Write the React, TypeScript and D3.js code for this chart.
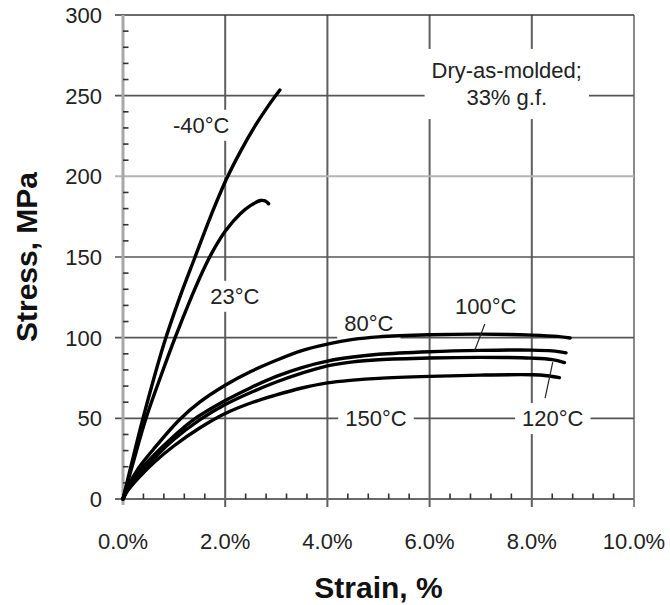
import React, { useEffect, useRef } from 'react';
import * as d3 from 'd3';

const WIDTH = 670;
const HEIGHT = 605;

// Axis ticks
const strainTicks = [0, 2, 4, 6, 8, 10];
const stressTicks = [0, 50, 100, 150, 200, 250, 300];

// Stress-strain curves: [strain %, stress MPa]
const curveMinus40: [number, number][] = [
  [0, 0], [0.2, 26], [0.4, 51], [0.8, 96], [1.1, 124], [1.41, 150], [1.7, 174],
  [2.02, 198], [2.3, 215.5], [2.6, 232], [2.85, 244], [3.07, 253.5],
];
const curve23: [number, number][] = [
  [0, 0], [0.22, 25], [0.45, 50], [0.75, 77], [1.02, 100], [1.35, 126], [1.5, 137],
  [1.64, 146.5], [1.8, 156], [2.0, 166], [2.3, 177], [2.5, 182], [2.69, 185], [2.78, 184.8],
  [2.85, 183],
];
const curve80: [number, number][] = [
  [0, 0], [0.1, 8], [0.3, 19], [0.6, 31], [1.1, 49], [1.5, 60], [2.0, 70.5], [2.5, 79],
  [3.0, 86], [3.5, 92], [4.0, 96], [4.5, 98.9], [5.0, 100.5], [6.0, 101.8], [7.0, 102.2],
  [8.0, 101.6], [8.5, 100.8], [8.75, 99.8],
];
const curve100: [number, number][] = [
  [0, 0], [0.1, 7], [0.3, 16.5], [0.6, 27], [1.0, 39], [1.35, 48.5], [2.0, 61], [2.5, 69],
  [3.0, 76], [3.5, 81.5], [4.0, 85.5], [4.5, 88], [5.0, 89.7], [6.0, 91.3], [7.0, 92.1],
  [8.0, 92.3], [8.4, 91.8], [8.67, 90.6],
];
const curve120: [number, number][] = [
  [0, 0], [0.1, 6.5], [0.3, 15], [0.6, 25], [1.0, 37], [1.5, 49], [2.0, 58.5], [2.5, 66],
  [3.0, 72.5], [3.5, 78], [4.0, 82.5], [4.5, 85], [5.0, 86.3], [6.0, 87.4], [7.0, 87.8],
  [8.0, 87.3], [8.4, 86.4], [8.64, 84.6],
];
const curve150: [number, number][] = [
  [0, 0], [0.1, 5.5], [0.3, 13], [0.6, 22.5], [1.0, 33], [1.5, 44], [2.0, 53], [2.5, 59.5],
  [3.0, 64.5], [3.5, 68.8], [4.0, 72], [4.5, 73.7], [5.0, 74.8], [6.0, 76], [7.0, 76.8],
  [8.0, 77], [8.3, 76.4], [8.54, 75.2],
];

const allCurves = [curveMinus40, curve23, curve80, curve100, curve120, curve150];

// Curve labels: text, anchor strain, baseline stress
const curveLabels: { text: string; sx: number; sy: number }[] = [
  { text: '-40°C', sx: 1.53, sy: 227 },
  { text: '23°C', sx: 2.19, sy: 121 },
  { text: '80°C', sx: 4.81, sy: 104 },
  { text: '100°C', sx: 7.1, sy: 114.7 },
  { text: '150°C', sx: 4.95, sy: 45.2 },
  { text: '120°C', sx: 8.41, sy: 45.2 },
];

// Leader lines from label to curve: [strain, stress] pairs
const leaders: [number, number][][] = [
  [[7.08, 108.5], [6.88, 91.8]],
  [[8.41, 84.9], [8.26, 62.6]],
];

const noteLines = ['Dry-as-molded;', '33% g.f.'];

export default function App() {
  const ref = useRef<SVGSVGElement>(null);

  useEffect(() => {
    const svg = d3.select(ref.current);
    svg.selectAll('*').remove();

    const x = d3.scaleLinear().domain([0, 10]).range([123, 634]);
    const y = d3.scaleLinear().domain([0, 300]).range([499, 15]);
    const font = '"Liberation Sans", Arial, sans-serif';
    const textColor = '#222';

    svg.append('rect').attr('width', WIDTH).attr('height', HEIGHT).attr('fill', '#fff');

    // Grid
    const grid = svg.append('g');
    strainTicks.slice(1).forEach((t) => {
      grid.append('line')
        .attr('x1', x(t)).attr('x2', x(t))
        .attr('y1', y(300)).attr('y2', y(0) + 8)
        .attr('stroke', t === 10 ? '#8a8a8a' : '#5e5e5e')
        .attr('stroke-width', 2);
    });
    stressTicks.slice(1).forEach((t) => {
      grid.append('line')
        .attr('x1', x(0) - 8).attr('x2', x(10))
        .attr('y1', y(t)).attr('y2', y(t))
        .attr('stroke', t === 200 ? '#b4b4b4' : t === 300 ? '#3a3a3a' : '#555')
        .attr('stroke-width', t === 200 ? 2 : 1.6);
    });

    const bgLayer = svg.append('g');

    // Axis lines
    svg.append('line')
      .attr('x1', x(0)).attr('x2', x(0))
      .attr('y1', y(300)).attr('y2', y(0) + 6)
      .attr('stroke', '#a8a8a8').attr('stroke-width', 3);
    svg.append('line')
      .attr('x1', x(0) - 8).attr('x2', x(10))
      .attr('y1', y(0)).attr('y2', y(0))
      .attr('stroke', '#6a6a6a').attr('stroke-width', 2);

    // Minor ticks
    const minorY = d3.range(10, 300, 10).filter((v) => v % 50 !== 0);
    svg.append('g').selectAll('line').data(minorY).join('line')
      .attr('x1', x(0)).attr('x2', x(0) + 5.5)
      .attr('y1', (d) => y(d)).attr('y2', (d) => y(d))
      .attr('stroke', '#333').attr('stroke-width', 1.6);
    const minorX = d3.range(1, 25).filter((i) => i % 5 !== 0).map((i) => i * 0.4);
    svg.append('g').selectAll('line').data(minorX).join('line')
      .attr('x1', (d) => x(d)).attr('x2', (d) => x(d))
      .attr('y1', y(0)).attr('y2', y(0) - 5.5)
      .attr('stroke', '#333').attr('stroke-width', 1.6);

    // Curves
    const line = d3.line<[number, number]>()
      .x((d) => x(d[0]))
      .y((d) => y(d[1]))
      .curve(d3.curveCatmullRom.alpha(0.5));
    svg.append('g').selectAll('path').data(allCurves).join('path')
      .attr('d', (d) => line(d))
      .attr('fill', 'none')
      .attr('stroke', '#000')
      .attr('stroke-width', 3.4)
      .attr('stroke-linecap', 'round')
      .attr('stroke-linejoin', 'round');

    // Leader lines
    svg.append('g').selectAll('line').data(leaders).join('line')
      .attr('x1', (d) => x(d[0][0])).attr('y1', (d) => y(d[0][1]))
      .attr('x2', (d) => x(d[1][0])).attr('y2', (d) => y(d[1][1]))
      .attr('stroke', '#222').attr('stroke-width', 1.2);

    // Tick labels
    svg.append('g').selectAll('text').data(stressTicks).join('text')
      .attr('x', 102).attr('y', (d) => y(d))
      .attr('dy', '0.36em')
      .attr('text-anchor', 'end')
      .attr('font-family', font).attr('font-size', 22).attr('fill', textColor)
      .text((d) => String(d));
    svg.append('g').selectAll('text').data(strainTicks).join('text')
      .attr('x', (d) => x(d)).attr('y', 549)
      .attr('text-anchor', 'middle')
      .attr('font-family', font).attr('font-size', 22).attr('fill', textColor)
      .text((d) => `${d.toFixed(1)}%`);

    // Axis titles
    svg.append('text')
      .attr('x', (x(0) + x(10)) / 2).attr('y', 598)
      .attr('text-anchor', 'middle')
      .attr('font-family', font).attr('font-size', 30).attr('font-weight', 'bold').attr('fill', '#111')
      .text('Strain, %');
    svg.append('text')
      .attr('transform', `translate(37, ${(y(0) + y(300)) / 2}) rotate(-90)`)
      .attr('text-anchor', 'middle')
      .attr('font-family', font).attr('font-size', 30).attr('font-weight', 'bold').attr('fill', '#111')
      .text('Stress, MPa');

    // Curve labels with white backgrounds that break the grid
    const labelLayer = svg.append('g');
    const addBg = (node: SVGGraphicsElement, padX: number, padY: number) => {
      const b = node.getBBox();
      bgLayer.append('rect')
        .attr('x', b.x - padX).attr('y', b.y - padY)
        .attr('width', b.width + 2 * padX).attr('height', b.height + 2 * padY)
        .attr('fill', '#fff');
    };
    curveLabels.forEach((l) => {
      const t = labelLayer.append('text')
        .attr('x', x(l.sx)).attr('y', y(l.sy))
        .attr('text-anchor', 'middle')
        .attr('font-family', font).attr('font-size', 22).attr('fill', textColor)
        .text(l.text);
      addBg(t.node() as SVGGraphicsElement, 7, 3);
    });

    const note = labelLayer.append('text')
      .attr('text-anchor', 'middle')
      .attr('font-family', font).attr('font-size', 22).attr('fill', textColor);
    noteLines.forEach((s, i) => {
      note.append('tspan')
        .attr('x', x(7.51))
        .attr('y', y(i === 0 ? 261 : 244.2))
        .text(s);
    });
    addBg(note.node() as SVGGraphicsElement, 7, 9);
  }, []);

  return (
    <svg
      ref={ref}
      width={WIDTH}
      height={HEIGHT}
      style={{ position: 'absolute', left: 0, top: 0, display: 'block' }}
    />
  );
}
